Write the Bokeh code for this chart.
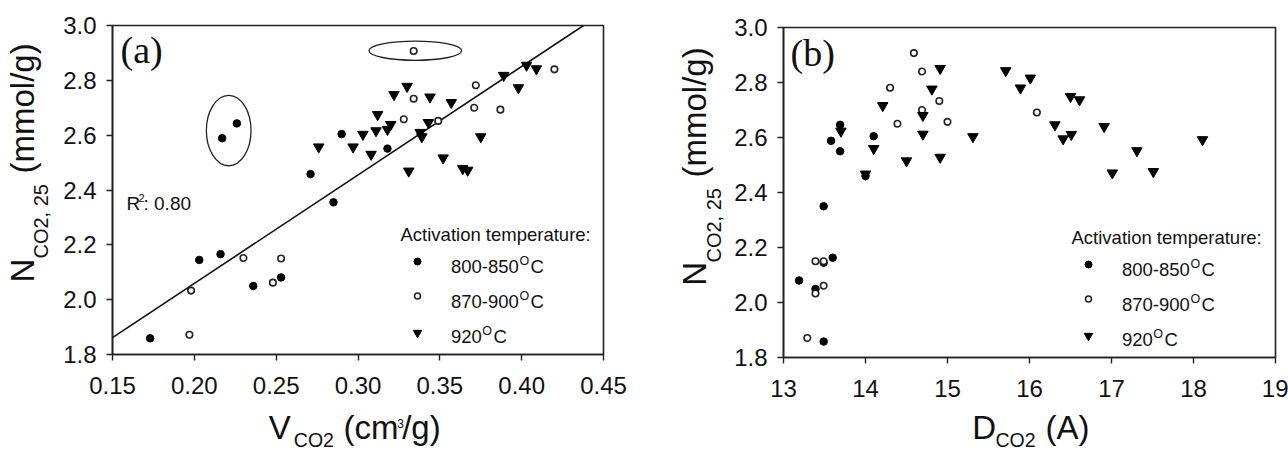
import math
from bokeh.plotting import figure
from bokeh.models import Range1d, FixedTicker, PrintfTickFormatter, Label
from bokeh.layouts import row, column
from bokeh.embed import file_html
from bokeh.resources import INLINE

# ---------------- data: panel (a)  N_CO2,25 vs V_CO2 ----------------
a_filled_v = [0.217, 0.226, 0.290, 0.271, 0.285, 0.203, 0.216, 0.253, 0.236, 0.173, 0.318]
a_filled_n = [2.589, 2.643, 2.604, 2.458, 2.355, 2.145, 2.166, 2.081, 2.050, 1.859, 2.551]

a_open_v = [0.334, 0.334, 0.372, 0.420, 0.371, 0.387, 0.328, 0.349, 0.230, 0.253, 0.248, 0.198, 0.197]
a_open_n = [2.907, 2.733, 2.782, 2.840, 2.700, 2.693, 2.658, 2.652, 2.152, 2.150, 2.062, 2.033, 1.872]

a_tri_v = [0.276, 0.330, 0.322, 0.344, 0.357, 0.389, 0.403, 0.409, 0.398, 0.312, 0.320, 0.343,
           0.303, 0.311, 0.318, 0.338, 0.339, 0.297, 0.308, 0.375, 0.352, 0.331, 0.364, 0.367]
a_tri_n = [2.557, 2.778, 2.748, 2.739, 2.719, 2.818, 2.855, 2.842, 2.773, 2.675, 2.639, 2.646,
           2.603, 2.616, 2.621, 2.610, 2.594, 2.557, 2.530, 2.594, 2.517, 2.469, 2.478, 2.472]

fit_intercept = 1.268
fit_slope = 3.956
r2_text = ": 0.80"

ell_v = [0.221, 0.335]
ell_n = [2.617, 2.908]
ell_w = [0.0273, 0.0566]
ell_h = [0.257, 0.070]

# ---------------- data: panel (b)  N_CO2,25 vs D_CO2 ----------------
b_filled_d = [13.58, 13.69, 14.10, 14.00, 13.49, 13.49, 13.60, 13.19, 13.39, 13.49, 13.69]
b_filled_n = [2.588, 2.646, 2.605, 2.460, 2.350, 2.145, 2.163, 2.080, 2.049, 1.858, 2.550]

b_open_d = [14.59, 14.90, 14.30, 14.69, 14.69, 16.09, 15.00, 14.39, 13.39, 13.49, 13.49, 13.39, 13.29]
b_open_n = [2.907, 2.733, 2.781, 2.840, 2.700, 2.691, 2.657, 2.650, 2.150, 2.150, 2.061, 2.033, 1.871]

b_tri_d = [14.91, 15.71, 16.01, 15.89, 14.81, 16.50, 16.61, 14.21, 14.70, 16.31, 16.91, 13.70,
           14.70, 16.51, 15.31, 16.41, 18.11, 14.10, 17.31, 14.91, 14.50, 17.51, 17.01, 14.00]
b_tri_n = [2.851, 2.843, 2.816, 2.780, 2.776, 2.749, 2.737, 2.716, 2.680, 2.646, 2.640, 2.623,
           2.612, 2.611, 2.603, 2.595, 2.592, 2.560, 2.552, 2.528, 2.515, 2.476, 2.471, 2.467]

# ---------------- axes / labels ----------------
a_xticks = [0.15, 0.20, 0.25, 0.30, 0.35, 0.40, 0.45]
b_xticks = [13, 14, 15, 16, 17, 18, 19]
yticks = [1.8, 2.0, 2.2, 2.4, 2.6, 2.8, 3.0]
legend_title = "Activation temperature:"
legend_labels = ["800-850", "870-900", "920"]
legend_markers = ["circle_filled", "circle_open", "inverted_triangle"]

FONT = "Liberation Sans"
SERIF = "Liberation Serif"
INK = "#111111"


def text_width(s, size):
    w = {"-": 0.333, ".": 0.278, ",": 0.278, " ": 0.278}
    return sum(w.get(c, 0.556) for c in s) * size


def make_fig(xr, fw, fh, left, right, top, bottom):
    p = figure(x_range=Range1d(*xr), y_range=Range1d(1.8, 3.0),
               frame_width=fw, frame_height=fh,
               min_border_left=left, min_border_right=right,
               min_border_top=top, min_border_bottom=bottom,
               output_backend="svg", toolbar_location=None, tools="")
    p.grid.visible = False
    p.outline_line_color = "#222222"
    p.outline_line_width = 1.6
    p.background_fill_color = "white"
    p.border_fill_color = "white"
    for ax in (p.xaxis[0], p.yaxis[0]):
        ax.axis_line_width = 1.6
        ax.axis_line_color = "#222222"
        ax.major_tick_line_width = 1.4
        ax.major_tick_line_color = "#222222"
        ax.major_tick_out = 6
        ax.major_tick_in = 0
        ax.minor_tick_line_color = None
        ax.major_label_text_font = FONT
        ax.major_label_text_font_size = "24px"
        ax.major_label_text_color = INK
    p.xaxis.major_label_standoff = 16
    p.yaxis.major_label_standoff = 10
    p.yaxis.ticker = FixedTicker(ticks=yticks)
    p.yaxis.formatter = PrintfTickFormatter(format="%.1f")
    return p


def text_fig(w, h):
    p = figure(width=w, height=h, x_range=Range1d(0, w), y_range=Range1d(0, h),
               min_border_left=0, min_border_right=0, min_border_top=0, min_border_bottom=0,
               x_axis_location=None, y_axis_location=None,
               output_backend="svg", toolbar_location=None, tools="")
    p.grid.visible = False
    p.outline_line_color = None
    p.background_fill_color = "white"
    p.border_fill_color = "white"
    return p


def lab(p, sx, sy, text, size, font=FONT):
    # (sx, sy): left end of the text, vertical centre of the line, in px from frame bottom-left
    p.add_layout(Label(x=sx, y=sy, x_units="screen", y_units="screen", text=text,
                       text_font=font, text_font_size=f"{size}px", text_color=INK,
                       text_align="left", text_baseline="middle"))


V_SHIFT = 25  # empirical correction for rotated labels


def vlab(p, sx, sy, text, size):
    # vertical (bottom-to-top) text starting near sy
    p.add_layout(Label(x=sx, y=sy - V_SHIFT, x_units="screen", y_units="screen", text=text,
                       text_font=FONT, text_font_size=f"{size}px", text_color=INK,
                       angle=math.pi / 2, text_align="left", text_baseline="top"))


def scatter_series(p, xs, ys, kind, size=None):
    if kind == "circle_filled":
        p.scatter(xs, ys, marker="circle", size=size or 7.5, fill_color="black", line_color="black")
    elif kind == "circle_open":
        p.scatter(xs, ys, marker="circle", size=size or 6.5, fill_color="white",
                  line_color="#222222", line_width=1.6)
    else:
        p.scatter(xs, ys, marker="inverted_triangle", size=size or 10.5,
                  fill_color="black", line_color="black")


def add_legend(p, xr, fw, fh):
    def dx(sx):
        return xr[0] + sx / fw * (xr[1] - xr[0])

    def dy(sy):
        return 1.8 + sy / fh * 1.2

    lab(p, 288, 120, legend_title, 18.5)
    marker_sy = [93, 58.5, 21.7]
    text_sy = [88, 53, 18]
    for kind, txt, msy, tsy in zip(legend_markers, legend_labels, marker_sy, text_sy):
        scatter_series(p, [dx(305)], [dy(msy)], kind,
                       size={"circle_filled": 7, "circle_open": 6, "inverted_triangle": 8.5}[kind])
        tx = 338.5
        lab(p, tx, tsy, txt, 18.5)
        ox = tx + text_width(txt, 18.5) + 0.5
        lab(p, ox, tsy + 5.5, "O", 12.5)
        lab(p, ox + 11.2, tsy, "C", 18.5)


# ---------------- panel (a) ----------------
A_XR = (0.15, 0.45)
pa = make_fig(A_XR, 491, 329, 52, 40, 25, 50)
pa.xaxis.ticker = FixedTicker(ticks=a_xticks)
pa.xaxis.formatter = PrintfTickFormatter(format="%.2f")

x_end = (3.0 - fit_intercept) / fit_slope
pa.line([A_XR[0], x_end], [fit_intercept + fit_slope * A_XR[0], 3.0], line_color="#111111", line_width=1.6)
pa.ellipse(x=ell_v, y=ell_n, width=ell_w, height=ell_h, fill_color=None,
           line_color="#222222", line_width=1.3)
scatter_series(pa, a_filled_v, a_filled_n, "circle_filled")
scatter_series(pa, a_open_v, a_open_n, "circle_open")
scatter_series(pa, a_tri_v, a_tri_n, "inverted_triangle")
add_legend(pa, A_XR, 491, 329)

lab(pa, 8, 305, "(a)", 38, font=SERIF)
lab(pa, 14, 150.8, "R", 19)
lab(pa, 26, 156.5, "2", 11)
lab(pa, 31, 150.8, r2_text, 19)

# ---------------- panel (b) ----------------
B_XR = (13, 19)
pb = make_fig(B_XR, 492, 330, 59, 13, 27, 48)
pb.xaxis.ticker = FixedTicker(ticks=b_xticks)
pb.xaxis.formatter = PrintfTickFormatter(format="%d")

scatter_series(pb, b_filled_d, b_filled_n, "circle_filled")
scatter_series(pb, b_open_d, b_open_n, "circle_open")
scatter_series(pb, b_tri_d, b_tri_n, "inverted_triangle")
add_legend(pb, B_XR, 492, 330)

lab(pb, 7, 305, "(b)", 38, font=SERIF)

# ---------------- axis titles (own text strips) ----------------
ya = text_fig(60, 404)
vlab(ya, 3.7, 97, "N", 33)
vlab(ya, 29.5, 121, "CO2, 25", 20)
vlab(ya, 3.7, 206, "(mmol/g)", 33)

xa = text_fig(643, 46)
lab(xa, 268.3, 22.8, "V", 33)
lab(xa, 293.3, 10.5, "CO2", 19.5)
lab(xa, 343, 22.8, "(cm", 33)
lab(xa, 396.7, 27.3, "3", 12)
lab(xa, 401.7, 22.8, "/g)", 33)

yb = text_fig(81, 405)
vlab(yb, 32.4, 96.7, "N", 33)
vlab(yb, 59.9, 120, "CO2, 25", 20)
vlab(yb, 32.4, 205, "(mmol/g)", 33)

xb = text_fig(645, 45)
lab(xb, 328.7, 22.8, "D", 33)
lab(xb, 352, 10.5, "CO2", 19.5)
lab(xb, 402, 22.8, "(A)", 33)

layout = row(column(row(ya, pa), xa), column(row(yb, pb), xb))
open("out.html", "w").write(file_html(layout, INLINE))
